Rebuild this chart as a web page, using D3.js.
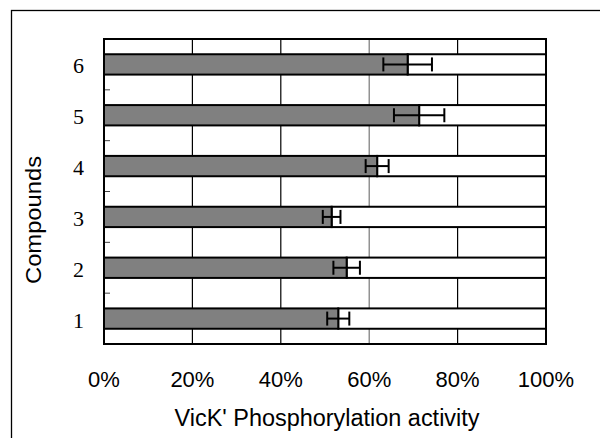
<!DOCTYPE html>
<html lang="en">
<head>
    <meta charset="UTF-8">
    <title>VicK' Phosphorylation activity</title>
    <script src="https://cdn.jsdelivr.net/npm/d3@7"></script>
    <style>
        html, body {
            margin: 0;
            padding: 0;
            background: #fff;
        }

        .sans {
            font-family: "Liberation Sans", Arial, sans-serif;
        }

        .serif {
            font-family: "Liberation Serif", "Times New Roman", serif;
        }
    </style>
</head>
<body>
<div id="chart"></div>
<script>
    // data (percent)
    const compounds = ['1', '2', '3', '4', '5', '6'];
    const activity = [53.0, 54.9, 51.5, 61.8, 71.3, 68.7];
    const errors = [2.5, 3.0, 2.0, 2.6, 5.7, 5.5];
    const xTicks = [0, 20, 40, 60, 80, 100];
    const gridTicks = [20, 40, 60, 80];

    const width = 600, height = 438;
    const margin = {top: 39, left: 104, right: 54, bottom: 94};
    const plotW = width - margin.left - margin.right;
    const plotH = height - margin.top - margin.bottom;

    const svg = d3.select('#chart').append('svg')
        .attr('width', width)
        .attr('height', height);

    // outer frame, runs off the right and bottom edges
    svg.append('rect')
        .attr('x', 11.5).attr('y', 10.5)
        .attr('width', 700).attr('height', 500)
        .attr('fill', 'none')
        .attr('stroke', '#000')
        .attr('stroke-width', 1.3);

    const x = d3.scaleLinear().domain([0, 100]).range([0, plotW]);
    const y = d3.scaleBand()
        .domain(compounds.slice().reverse())
        .range([0, plotH])
        .paddingInner(0.6)
        .paddingOuter(0.3);

    const rows = compounds.map((c, i) => ({name: c, value: activity[i], err: errors[i]}));

    const g = svg.append('g').attr('transform', `translate(${margin.left},${margin.top})`);

    // vertical grid lines
    g.selectAll('line.grid').data(gridTicks).enter().append('line')
        .classed('grid', true)
        .attr('x1', d => x(d)).attr('x2', d => x(d))
        .attr('y1', 0).attr('y2', plotH)
        .attr('stroke', d => d === 60 ? '#777' : '#000')
        .attr('stroke-width', 1.2);

    // small ticks on band boundaries
    const step = y.step();
    g.selectAll('line.ytick').data(compounds.slice(1)).enter().append('line')
        .classed('ytick', true)
        .attr('x1', 0).attr('x2', 6)
        .attr('y1', d => y(d) + y.bandwidth() + step * 0.3)
        .attr('y2', d => y(d) + y.bandwidth() + step * 0.3)
        .attr('stroke', '#444')
        .attr('stroke-width', 1);

    // white remainder bars
    g.selectAll('rect.rest').data(rows).enter().append('rect')
        .classed('rest', true)
        .attr('x', d => x(d.value))
        .attr('y', d => y(d.name))
        .attr('width', d => x(100) - x(d.value))
        .attr('height', y.bandwidth())
        .attr('fill', '#fff')
        .attr('stroke', '#000')
        .attr('stroke-width', 2);

    // grey value bars
    g.selectAll('rect.bar').data(rows).enter().append('rect')
        .classed('bar', true)
        .attr('x', 0)
        .attr('y', d => y(d.name))
        .attr('width', d => x(d.value))
        .attr('height', y.bandwidth())
        .attr('fill', '#808080')
        .attr('stroke', '#000')
        .attr('stroke-width', 2);

    // error bars
    const capH = 14;
    const err = g.selectAll('g.err').data(rows).enter().append('g')
        .classed('err', true)
        .attr('transform', d => `translate(0,${y(d.name) + y.bandwidth() / 2})`)
        .attr('stroke', '#000')
        .attr('stroke-width', 2);
    err.append('line')
        .attr('x1', d => x(d.value - d.err)).attr('x2', d => x(d.value + d.err))
        .attr('y1', 0).attr('y2', 0);
    err.append('line')
        .attr('x1', d => x(d.value - d.err)).attr('x2', d => x(d.value - d.err))
        .attr('y1', -capH / 2).attr('y2', capH / 2);
    err.append('line')
        .attr('x1', d => x(d.value + d.err)).attr('x2', d => x(d.value + d.err))
        .attr('y1', -capH / 2).attr('y2', capH / 2);

    // plot border
    g.append('rect')
        .attr('x', 0).attr('y', 0)
        .attr('width', plotW).attr('height', plotH)
        .attr('fill', 'none')
        .attr('stroke', '#000')
        .attr('stroke-width', 2);

    // y labels
    g.selectAll('text.ylab').data(compounds).enter().append('text')
        .classed('ylab serif', true)
        .attr('x', -20)
        .attr('y', d => y(d) + y.bandwidth() / 2 + 9)
        .attr('text-anchor', 'end')
        .attr('font-size', 22)
        .attr('fill', '#000')
        .text(d => d);

    // x labels
    g.selectAll('text.xlab').data(xTicks).enter().append('text')
        .classed('xlab sans', true)
        .attr('x', d => x(d))
        .attr('y', 387 - margin.top)
        .attr('text-anchor', 'middle')
        .attr('font-size', 22)
        .attr('fill', '#000')
        .text(d => d + '%');

    svg.append('text')
        .classed('sans', true)
        .attr('x', margin.left + plotW / 2 + 2)
        .attr('y', 426)
        .attr('text-anchor', 'middle')
        .attr('font-size', 23)
        .attr('textLength', 305)
        .attr('lengthAdjust', 'spacingAndGlyphs')
        .text("VicK' Phosphorylation activity");

    svg.append('text')
        .classed('sans', true)
        .attr('transform', 'translate(41,220) rotate(-90)')
        .attr('text-anchor', 'middle')
        .attr('font-size', 22)
        .attr('textLength', 128)
        .attr('lengthAdjust', 'spacingAndGlyphs')
        .text('Compounds');
</script>
</body>
</html>
